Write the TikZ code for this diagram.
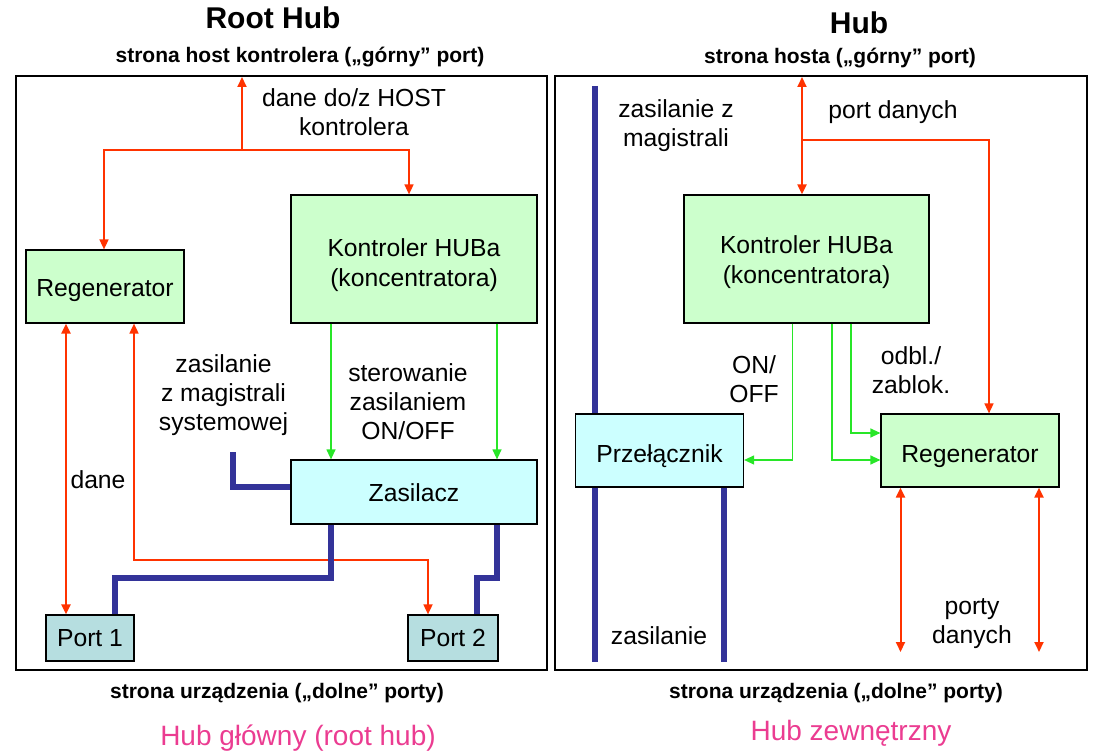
\documentclass[tikz,border=0pt]{standalone}
\usepackage{fontspec}
\setmainfont{Liberation Sans}
\usetikzlibrary{arrows.meta}
\definecolor{myred}{RGB}{255,51,0}
\definecolor{mygreen}{RGB}{40,230,40}
\definecolor{myblue}{RGB}{51,51,153}
\definecolor{boxgreen}{RGB}{204,255,204}
\definecolor{boxcyan}{RGB}{204,255,255}
\definecolor{boxport}{RGB}{182,222,224}
\definecolor{mypink}{RGB}{235,60,145}
\tikzset{
  rt/.tip={Triangle[length=10pt,width=9pt]},
  gt/.tip={Triangle[length=10pt,width=9pt]},
  panel/.style={draw=black,line width=1.3pt},
  blk/.style={draw=black,line width=1.2pt,inner sep=0pt},
  gbox/.style={blk,fill=boxgreen},
  cbox/.style={blk,fill=boxcyan},
  pbox/.style={blk,fill=boxport},
  btxt/.style={inner sep=0pt,font=\fontsize{24.7}{30}\selectfont,align=center},
  lbl/.style={inner sep=0pt,font=\fontsize{24.7}{29}\selectfont,align=center},
  ttl/.style={inner sep=0pt,font=\fontsize{30}{34}\selectfont\bfseries},
  sub/.style={inner sep=0pt,font=\fontsize{21}{25}\selectfont\bfseries},
  pink/.style={inner sep=0pt,font=\fontsize{28}{32}\selectfont,text=mypink},
  redthick/.style={draw=myred,line width=2pt},
  redthin/.style={draw=myred,line width=1.6pt},
  redmid/.style={draw=myred,line width=1.7pt},
  grn/.style={draw=mygreen,line width=1.2pt},
  bluew/.style={draw=myblue,line width=6pt},
}
\begin{document}
\begin{tikzpicture}[x=1pt,y=-1pt]
\useasboundingbox (0,0) rectangle (1098,754);
% panels
\draw[panel] (16,76) rectangle (547,670);
\draw[panel] (555,76) rectangle (1087,670);
% titles
\node[ttl] (t1) at (273,18) {Root Hub};
\node[ttl] (t2) at (859,23) {Hub};
\node[sub] (s1) at (300,57) {strona host kontrolera („górny” port)};
\node[sub] (s2) at (840,58) {strona hosta („górny” port)};
\node[sub] (s3) at (277,693) {strona urządzenia („dolne” porty)};
\node[sub] (s4) at (836,693) {strona urządzenia („dolne” porty)};
\node[pink] (p1) at (298,738) {Hub główny (root hub)};
\node[pink] (p2) at (851,733) {Hub zewnętrzny};
% ---------- left panel ----------
\node[gbox,minimum width=158pt,minimum height=73pt,
  label={[btxt,yshift=-4.5pt]center:Regenerator}] (regL) at (105,286.5) {};
\node[gbox,minimum width=246pt,minimum height=128pt,
  label={[btxt,yshift=-6.5pt]center:{Kontroler HUBa\\(koncentratora)}}] (kontL) at (414,259) {};
\node[cbox,minimum width=246pt,minimum height=64pt,
  label={[btxt,yshift=-1pt]center:Zasilacz}] (zas) at (414,492) {};
\node[pbox,minimum width=88pt,minimum height=46pt,
  label={[btxt]center:Port 1}] (port1) at (90,638) {};
\node[pbox,minimum width=90pt,minimum height=46pt,
  label={[btxt]center:Port 2}] (port2) at (453,638) {};
\node[lbl] (l1) at (354,112) {dane do/z HOST\\kontrolera};
\node[lbl] (l2) at (223.5,395) {zasilanie\\z magistrali\\systemowej};
\node[lbl] (l3) at (408,401.5) {sterowanie\\zasilaniem\\ON/OFF};
\node[lbl] (l4) at (98,480) {dane};
% red connectors
\coordinate (topL) at (242,77);
\coordinate (jL) at (242,150);
\draw[redthick,-rt] (jL) -- (topL);
\draw[redthin,-rt] (jL) -| ([xshift=-1pt]regL.north);
\draw[redthin,-rt] (jL) -| ([xshift=-5pt]kontL.north);
\coordinate (dTop) at ([xshift=-39pt]regL.south);
\draw[redthick,rt-rt] (dTop) -- (dTop |- port1.north);
\coordinate (r2a) at ([xshift=29pt]regL.south);
\coordinate (r2b) at ([xshift=-25pt]port2.north);
\coordinate (r2y) at (0,560);
\draw[redmid,rt-rt] (r2a) -- (r2a |- r2y) -| (r2b);
% green
\coordinate (g1) at ([xshift=-83pt]kontL.south);
\coordinate (g2) at ([xshift=83pt]kontL.south);
\draw[grn,-gt] (g1) -- (g1 |- zas.north);
\draw[grn,-gt] (g2) -- (g2 |- zas.north);
% blue power
\coordinate (pwL) at (233,452);
\draw[bluew] (pwL) |- ([yshift=5pt]zas.west);
\coordinate (bz1) at ([xshift=-83pt]zas.south);
\coordinate (bp1) at ([xshift=25pt]port1.north);
\coordinate (by) at (0,578);
\draw[bluew] (bz1) -- (bz1 |- by) -| (bp1);
\coordinate (bz2) at ([xshift=83pt]zas.south);
\coordinate (bp2) at ([xshift=24pt]port2.north);
\draw[bluew] (bz2) -- (bz2 |- by) -| (bp2);
% ---------- right panel ----------
\node[gbox,minimum width=245pt,minimum height=128pt,
  label={[btxt,yshift=-3pt]center:{Kontroler HUBa\\(koncentratora)}}] (kontR) at (806.5,259) {};
\node[cbox,minimum width=168pt,minimum height=73pt,
  label={[btxt,yshift=-6pt]center:Przełącznik}] (prz) at (659.5,450.5) {};
\node[gbox,minimum width=178pt,minimum height=73pt,
  label={[btxt,yshift=-6pt]center:Regenerator}] (regR) at (970,450.5) {};
\node[lbl] (l5) at (676,126) {zasilanie z\\magistrali};
\node[lbl] (l6) at (893,112) {port danych};
\node[lbl] (l7) at (754,379) {ON/\\OFF};
\node[lbl] (l8) at (911,370) {odbl./\\zablok.};
\node[lbl] (l9) at (972,624) {porty\\danych};
\node[lbl] (l10) at (659,635.5) {zasilanie};
% red
\coordinate (topR) at (802,77);
\coordinate (jR) at (802,140);
\draw[redthick,rt-rt] (topR) -- (topR |- kontR.north);
\draw[redthin,-rt] (jR) -| ([xshift=19pt]regR.north);
\coordinate (pd1) at (900.5,652);
\coordinate (pd2) at (1039,652);
\draw[redthick,rt-rt] (pd1 |- regR.south) -- (pd1);
\draw[redthick,rt-rt] (pd2 |- regR.south) -- (pd2);
% green
\coordinate (g3) at ([xshift=-14pt]kontR.south);
\coordinate (g4) at ([xshift=25.5pt]kontR.south);
\coordinate (g5) at ([xshift=44.5pt]kontR.south);
\draw[grn,-gt] (g3) |- ([yshift=-9.5pt]prz.east);
\draw[grn,-gt] (g4) |- ([yshift=-9.5pt]regR.west);
\draw[grn,-gt] (g5) |- ([yshift=17.5pt]regR.west);
% blue
\coordinate (pwR) at (595,86);
\coordinate (pwRb) at (595,662);
\coordinate (pwR2) at (724,662);
\draw[bluew] (pwR) -- (pwR |- prz.north);
\draw[bluew] (pwRb |- prz.south) -- (pwRb);
\draw[bluew] (pwR2 |- prz.south) -- (pwR2);
\end{tikzpicture}
\end{document}
